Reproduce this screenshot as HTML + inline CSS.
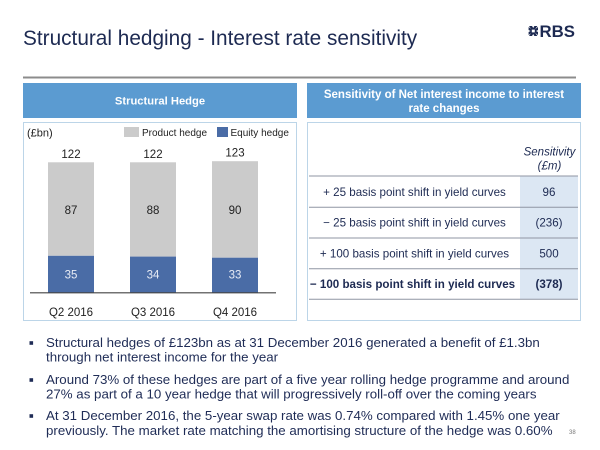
<!DOCTYPE html>
<html><head><meta charset="utf-8">
<style>
html,body{margin:0;padding:0;background:#fff;}
svg{display:block;}
text{font-family:"Liberation Sans",Arial,sans-serif;}
</style></head>
<body>
<svg width="600" height="450" viewBox="0 0 600 450" xmlns="http://www.w3.org/2000/svg">
<rect width="600" height="450" fill="#fff"/>
<!-- Title -->
<text x="23" y="45" font-size="20.8" fill="#1d2a52">Structural hedging - Interest rate sensitivity</text>
<!-- Logo -->
<g fill="#1d2a52">
  <path d="M529 26 h3 l1.2 2 l1.2 -2 h3 l-2.6 3.6 h-3.2 z"/>
  <path d="M529 36 h3 l1.2 -2 l1.2 2 h3 l-2.6 -3.6 h-3.2 z"/>
  <path d="M528.6 27 v3 l2 1 l-2 1 v3 l3.2 -2.4 v-3.2 z"/>
  <path d="M538 27 v3 l-2 1 l2 1 v3 l-3.2 -2.4 v-3.2 z"/>
</g>
<text x="539.5" y="37" font-size="16.8" font-weight="bold" fill="#1d2a52">RBS</text>
<!-- Gray rule -->
<rect x="23" y="76.5" width="553" height="2" fill="#8c8c8c"/>
<!-- Header boxes -->
<rect x="23" y="83" width="274" height="35" fill="#5b9bd1"/>
<rect x="307" y="83" width="274" height="35" fill="#5b9bd1"/>
<text x="160" y="104.6" font-size="11.2" font-weight="bold" fill="#fff" text-anchor="middle">Structural Hedge</text>
<text x="444" y="98.2" font-size="11.5" font-weight="bold" fill="#fff" text-anchor="middle">Sensitivity of Net interest income to interest</text>
<text x="444" y="111.8" font-size="11.5" font-weight="bold" fill="#fff" text-anchor="middle">rate changes</text>
<!-- Panels -->
<rect x="23.5" y="122.5" width="273" height="198" fill="none" stroke="#bcd5e8" stroke-width="1"/>
<rect x="307.5" y="122.5" width="273" height="198" fill="none" stroke="#bcd5e8" stroke-width="1"/>
<!-- Left chart -->
<text x="27" y="136.5" font-size="11" fill="#222">(£bn)</text>
<rect x="124" y="127" width="15" height="10" fill="#cbcbcb"/>
<text x="142" y="136" font-size="10" fill="#222">Product hedge</text>
<rect x="217" y="127" width="11" height="10" fill="#4a6ca6"/>
<text x="230.5" y="136" font-size="10" fill="#222">Equity hedge</text>

<rect x="48" y="162.3" width="46" height="93.5" fill="#cbcbcb"/>
<rect x="48" y="255.8" width="46" height="37" fill="#4a6ca6"/>
<rect x="130" y="162.3" width="46" height="94.3" fill="#cbcbcb"/>
<rect x="130" y="256.6" width="46" height="36.2" fill="#4a6ca6"/>
<rect x="212" y="161.2" width="46" height="96.5" fill="#cbcbcb"/>
<rect x="212" y="257.7" width="46" height="35.1" fill="#4a6ca6"/>
<line x1="30" y1="292.8" x2="276" y2="292.8" stroke="#444" stroke-width="1.2"/>

<g font-size="11.5" fill="#222" text-anchor="middle">
<text x="71" y="157.8">122</text>
<text x="153" y="157.8">122</text>
<text x="235" y="156.6">123</text>
<text x="71" y="214">87</text>
<text x="153" y="214">88</text>
<text x="235" y="214">90</text>
<text x="71" y="315.8">Q2 2016</text>
<text x="153" y="315.8">Q3 2016</text>
<text x="235" y="315.8">Q4 2016</text>
</g>
<g font-size="11.5" fill="#e8ecf5" text-anchor="middle">
<text x="71" y="278.6">35</text>
<text x="153" y="278.6">34</text>
<text x="235" y="278.6">33</text>
</g>
<!-- Right table -->
<rect x="520" y="176" width="58" height="123.3" fill="#dce7f3"/>
<text x="549.5" y="155.7" font-size="11.5" font-style="italic" fill="#1d2a52" text-anchor="middle">Sensitivity</text>
<text x="549.5" y="169.7" font-size="11.5" font-style="italic" fill="#1d2a52" text-anchor="middle">(£m)</text>
<g stroke="#8f95a3" stroke-width="1">
<line x1="309" y1="176" x2="578" y2="176"/>
<line x1="309" y1="207.3" x2="578" y2="207.3"/>
<line x1="309" y1="238" x2="578" y2="238"/>
<line x1="309" y1="268.7" x2="578" y2="268.7"/>
<line x1="309" y1="299.3" x2="578" y2="299.3"/>
</g>
<g font-size="11.6" fill="#1d2a52" text-anchor="middle">
<text x="414.5" y="195.9">+ 25 basis point shift in yield curves</text>
<text x="414.5" y="226.5">− 25 basis point shift in yield curves</text>
<text x="414.5" y="257.5">+ 100 basis point shift in yield curves</text>
<text x="549" y="195.9">96</text>
<text x="549" y="226.5">(236)</text>
<text x="549" y="257.5">500</text>
</g>
<g font-size="11.6" font-weight="bold" fill="#1d2a52" text-anchor="middle">
<text x="412.5" y="288.2">− 100 basis point shift in yield curves</text>
<text x="549" y="288.2">(378)</text>
</g>
<!-- Bullets -->
<g fill="#1f2c56">
<rect x="29.5" y="341.2" width="3.6" height="3.6"/>
<rect x="29.5" y="378.2" width="3.6" height="3.6"/>
<rect x="29.5" y="414.2" width="3.6" height="3.6"/>
</g>
<g font-size="13.3" fill="#1f2c56">
<text x="46" y="347">Structural hedges of £123bn as at 31 December 2016 generated a benefit of £1.3bn</text>
<text x="46" y="361.7">through net interest income for the year</text>
<text x="46" y="384">Around 73% of these hedges are part of a five year rolling hedge programme and around</text>
<text x="46" y="398.4">27% as part of a 10 year hedge that will progressively roll-off over the coming years</text>
<text x="46" y="420">At 31 December 2016, the 5-year swap rate was 0.74% compared with 1.45% one year</text>
<text x="46" y="435">previously. The market rate matching the amortising structure of the hedge was 0.60%</text>
</g>
<text x="569" y="434" font-size="6" fill="#777">38</text>
</svg>
</body></html>
